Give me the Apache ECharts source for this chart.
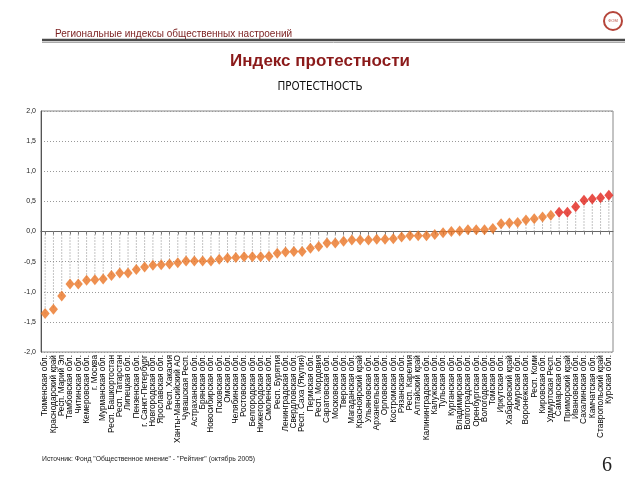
<!DOCTYPE html>
<html>
<head>
<meta charset="utf-8">
<script src="https://cdn.jsdelivr.net/npm/echarts@6/dist/echarts.min.js"></script>
<style>html,body{margin:0;padding:0;background:#fff}#c{width:640px;height:480px}</style>
</head>
<body>
<div id="c"></div>
<script>
const categories = [
  'Тюменская обл.','Краснодарский край','Респ. Марий Эл','Тамбовская обл.','Читинская обл.',
  'Кемеровская обл.','г. Москва','Мурманская обл.','Респ. Башкортостан','Респ. Татарстан',
  'Липецкая обл.','Пензенская обл.','г. Санкт-Петербург','Новгородская обл.','Ярославская обл.',
  'Респ. Хакасия','Ханты-Мансийский АО','Чувашская Респ.','Астраханская обл.','Брянская обл.',
  'Новосибирская обл.','Псковская обл.','Омская обл.','Челябинская обл.','Ростовская обл.',
  'Белгородская обл.','Нижегородская обл.','Смоленская обл.','Респ. Бурятия','Ленинградская обл.',
  'Свердловская обл.','Респ. Саха (Якутия)','Пермская обл.','Респ. Мордовия','Саратовская обл.',
  'Московская обл.','Тверская обл.','Магаданская обл.','Красноярский край','Ульяновская обл.',
  'Архангельская обл.','Орловская обл.','Костромская обл.','Рязанская обл.','Респ. Карелия',
  'Алтайский край','Калининградская обл.','Калужская обл.','Тульская обл.','Курганская обл.',
  'Владимирская обл.','Волгоградская обл.','Оренбургская обл.','Вологодская обл.','Томская обл.',
  'Иркутская обл.','Хабаровский край','Амурская обл.','Воронежская обл.','Респ. Коми',
  'Кировская обл.','Удмуртская Респ.','Самарская обл.','Приморский край','Ивановская обл.',
  'Сахалинская обл.','Камчатская обл.','Ставропольский край','Курская обл.'
];
const values = [
  -1.36,-1.29,-1.07,-0.87,-0.87,-0.81,-0.80,-0.79,-0.73,-0.69,
  -0.69,-0.63,-0.59,-0.56,-0.55,-0.54,-0.52,-0.49,-0.49,-0.49,
  -0.49,-0.46,-0.44,-0.43,-0.42,-0.42,-0.42,-0.41,-0.36,-0.34,
  -0.33,-0.33,-0.28,-0.25,-0.19,-0.19,-0.16,-0.14,-0.14,-0.14,
  -0.13,-0.13,-0.12,-0.09,-0.07,-0.07,-0.07,-0.05,-0.02,0.00,
  0.01,0.03,0.03,0.03,0.05,0.13,0.14,0.15,0.19,0.21,
  0.24,0.27,0.32,0.32,0.41,0.52,0.54,0.56,0.60
];
const highlightFrom = 62;
const yTicks = { min: -2, max: 2, step: 0.5 };

const chart = echarts.init(document.getElementById('c'), null, { renderer: 'canvas' });
const ORANGE = '#EA7424', RED = '#E2231A';

chart.setOption({
  animation: false,
  backgroundColor: '#fff',
  title: [
    { text: 'Региональные индексы общественных настроений', left: 50, top: 24,
      textStyle: { fontSize: 10, fontWeight: 'normal', color: '#7A1E1E', fontFamily: 'Liberation Sans, Arial' } },
    { text: 'Индекс протестности', left: 'center', top: 48,
      textStyle: { fontSize: 17, fontWeight: 'bold', color: '#8B1A1A', fontFamily: 'Liberation Sans, Arial' } },
    { text: 'ПРОТЕСТНОСТЬ', left: 'center', top: 76,
      textStyle: { fontSize: 11.5, fontWeight: 'normal', color: '#111', fontFamily: 'DejaVu Sans Condensed, Liberation Sans Narrow, Arial' } },
    { text: 'Источник: Фонд "Общественное мнение" - "Рейтинг" (октябрь 2005)', left: 37, top: 451,
      textStyle: { fontSize: 6.8, fontWeight: 'normal', color: '#222', fontFamily: 'Liberation Sans, Arial' } },
    { text: '6', left: 597, top: 451,
      textStyle: { fontSize: 20, fontWeight: 'normal', color: '#222', fontFamily: 'Liberation Serif, Times New Roman' } }
  ],
  graphic: [
    { type: 'line', shape: { x1: 42, y1: 40, x2: 625, y2: 40 }, style: { stroke: '#4a4a4a', lineWidth: 2.5 } },
    { type: 'line', shape: { x1: 42, y1: 42.5, x2: 625, y2: 42.5 }, style: { stroke: '#aaa', lineWidth: 1 } },
    { type: 'circle', shape: { cx: 613, cy: 21, r: 9 }, style: { fill: 'none', stroke: '#B5453A', lineWidth: 2 } },
    { type: 'text', x: 613, y: 21, style: { text: 'ФОМ', fontSize: 4, fill: '#B5453A', align: 'center', verticalAlign: 'middle' } }
  ],
  grid: { left: 41, right: 27, top: 111, bottom: 128, show: true, borderColor: '#888', borderWidth: 1 },
  xAxis: [
    {
      type: 'category', data: categories, position: 'bottom', boundaryGap: true,
      axisLine: { show: false, onZero: false }, axisTick: { show: false },
      axisLabel: { interval: 0, rotate: 90, fontSize: 8.3, color: '#000', margin: 3,
        fontFamily: 'Liberation Sans, Arial' }
    },
    {
      type: 'category', data: categories, position: 'bottom', boundaryGap: true,
      axisLine: { show: true, onZero: true, lineStyle: { color: '#666', width: 1 } },
      axisTick: { show: true, interval: 0, length: 3, alignWithLabel: true, lineStyle: { color: '#777' } },
      axisLabel: { show: false }
    }
  ],
  yAxis: {
    type: 'value', min: yTicks.min, max: yTicks.max, interval: yTicks.step,
    axisLine: { show: true, lineStyle: { color: '#555' } }, axisTick: { show: false },
    axisLabel: { fontSize: 7, color: '#222', margin: 5, fontFamily: 'Liberation Sans, Arial',
      formatter: v => v.toFixed(1).replace('.', ',') },
    splitLine: { show: true, lineStyle: { color: '#999', type: [1, 2], width: 1 } }
  },
  series: [
    {
      type: 'custom', xAxisIndex: 0, silent: true,
      data: values.map((v, i) => [i, v]),
      encode: { x: 0, y: 1 },
      renderItem: (params, api) => {
        const p0 = api.coord([api.value(0), 0]);
        const p1 = api.coord([api.value(0), api.value(1)]);
        return { type: 'line', shape: { x1: p0[0], y1: p0[1], x2: p1[0], y2: p1[1] },
          style: { stroke: '#888', lineWidth: 1, lineDash: [1, 2] } };
      },
      z: 1
    },
    {
      type: 'scatter', xAxisIndex: 0, data: values,
      symbol: 'diamond', symbolSize: [9, 11],
      itemStyle: { color: p => p.dataIndex >= highlightFrom ? RED : ORANGE },
      z: 3
    }
  ]
});
</script>
</body>
</html>
